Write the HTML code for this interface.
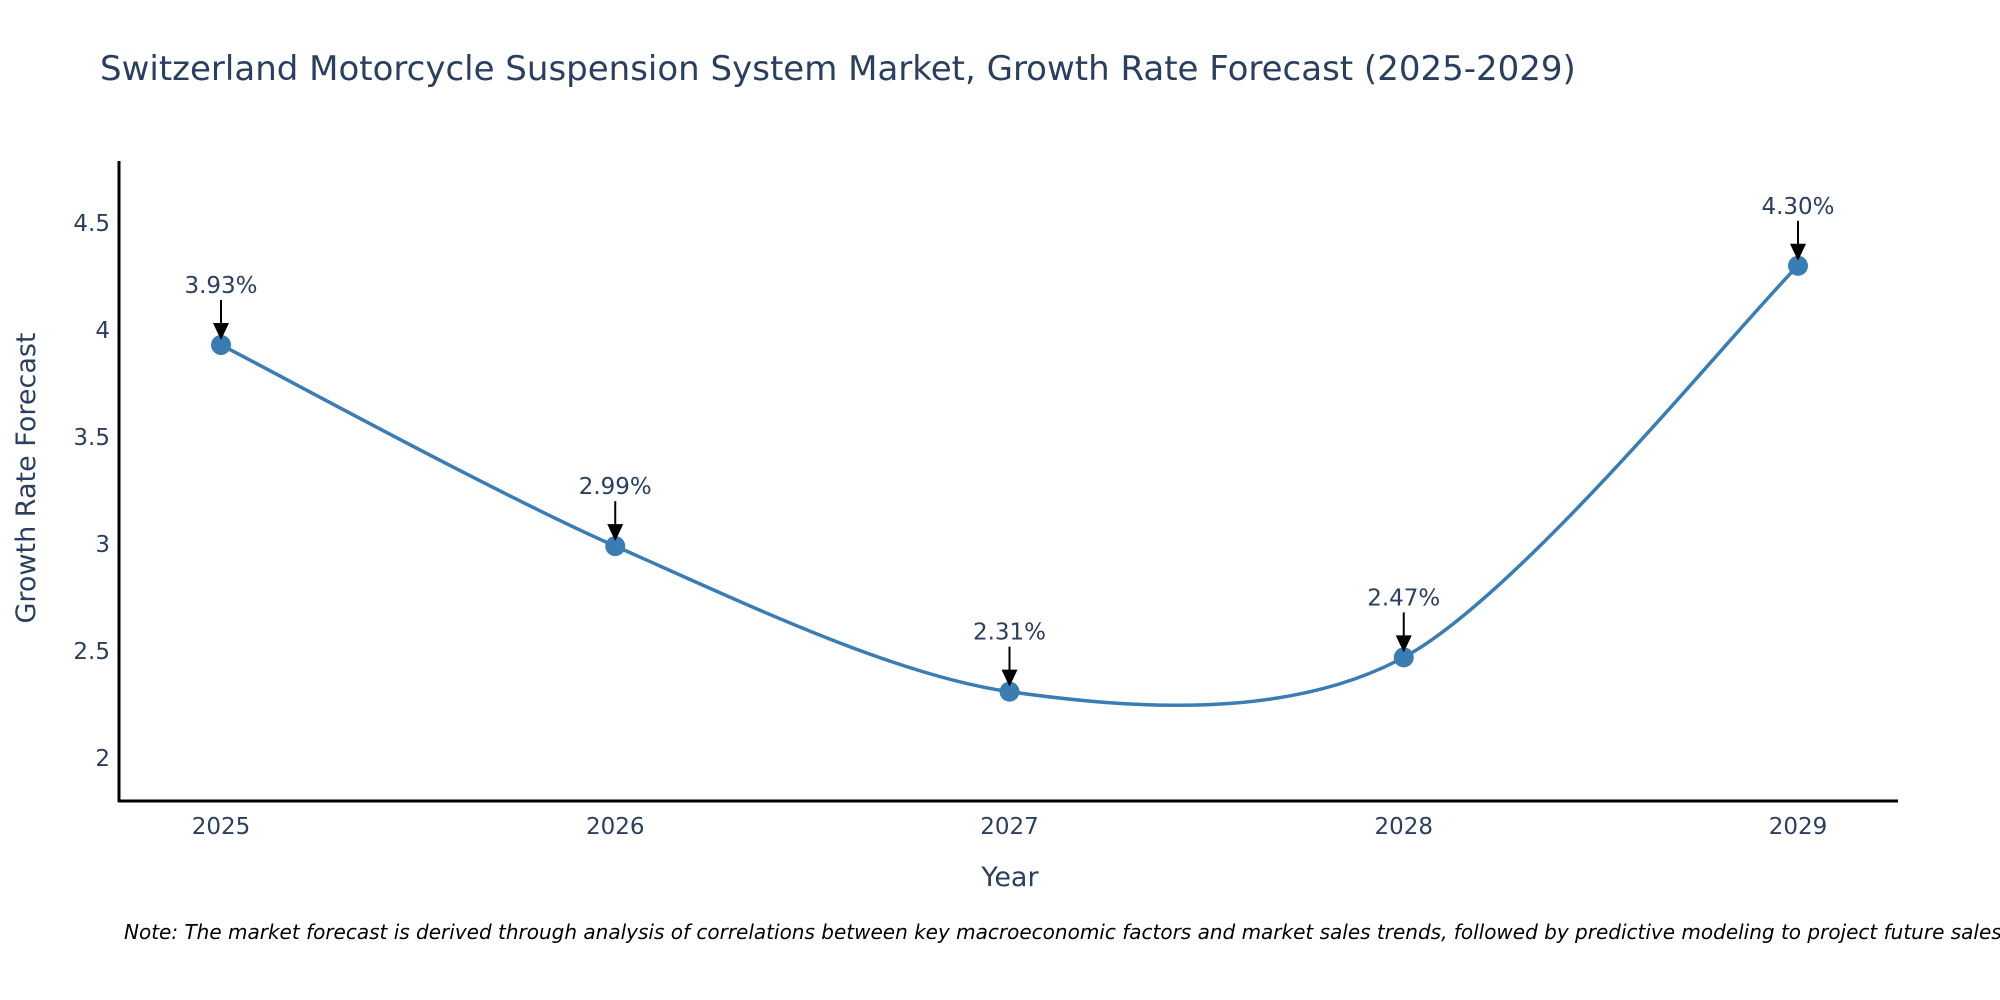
<!DOCTYPE html>
<html><head><meta charset="utf-8"><style>
body{margin:0;background:#fff;}
svg{display:block;font-family:"DejaVu Sans","Liberation Sans",sans-serif;}
</style></head><body>
<svg id="chart" width="2000" height="1000">
<text x="100" y="80" font-size="34" fill="#2a3f5f">Switzerland Motorcycle Suspension System Market, Growth Rate Forecast (2025-2029)</text>
<g id="yticks"></g>
<g id="xticks"></g>
<path id="line" fill="none" stroke="#3a7db4" stroke-width="3.5"></path>
<g id="points"></g>
<g id="annots"></g>
<line x1="119" y1="161" x2="119" y2="802" stroke="#000" stroke-width="3"/>
<line x1="118" y1="801" x2="1898" y2="801" stroke="#000" stroke-width="3"/>
<text x="1010" y="886" font-size="27" fill="#2a3f5f" text-anchor="middle">Year</text>
<text transform="translate(35,478) rotate(-90)" font-size="27" fill="#2a3f5f" text-anchor="middle">Growth Rate Forecast</text>
<text x="124" y="939" font-size="20" font-style="italic" fill="#000">Note: The market forecast is derived through analysis of correlations between key macroeconomic factors and market sales trends, followed by predictive modeling to project future sales.</text>
</svg>
<script>
const years=[2025,2026,2027,2028,2029];
const values=[3.93,2.99,2.31,2.47,4.30];
const labels=["3.93%","2.99%","2.31%","2.47%","4.30%"];
const yTicks=[2,2.5,3,3.5,4,4.5];
const yTickLabels=["2","2.5","3","3.5","4","4.5"];
const NS="http://www.w3.org/2000/svg";
function xs(y){return 221+(y-2025)*394.25;}
function ys(v){return 758-(v-2)*214;}
function mk(t,a,p){const e=document.createElementNS(NS,t);for(const k in a)e.setAttribute(k,a[k]);p.appendChild(e);return e;}
const yt=document.getElementById('yticks');
yTicks.forEach((v,i)=>{const t=mk('text',{x:110,y:ys(v)+8,'font-size':23,fill:'#2a3f5f','text-anchor':'end'},yt);


t.textContent=yTickLabels[i];});
const xt=document.getElementById('xticks');
years.forEach(y=>{const t=mk('text',{x:xs(y),y:834,'font-size':23,fill:'#2a3f5f','text-anchor':'middle'},xt);


t.textContent=y;});
const P=years.map((y,i)=>[xs(y),ys(values[i])]);
let d='M'+P[0][0]+','+P[0][1];
const s=0.45;
for(let i=0;i<P.length-1;i++){const p0=P[Math.max(0,i-1)],p1=P[i],p2=P[i+1],p3=P[Math.min(P.length-1,i+2)];
const c1=[p1[0]+(p2[0]-p0[0])*s/3,p1[1]+(p2[1]-p0[1])*s/3];
const c2=[p2[0]-(p3[0]-p1[0])*s/3,p2[1]-(p3[1]-p1[1])*s/3];
d+=' C'+c1+' '+c2+' '+p2;}
document.getElementById('line').setAttribute('d',d);
const pg=document.getElementById('points'),ag=document.getElementById('annots');
P.forEach((p,i)=>{const c=mk('circle',{cx:p[0],cy:p[1],r:10,fill:'#3a7db4'},pg);


const l=mk('line',{x1:p[0],y1:p[1]-45,x2:p[0],y2:p[1]-20,stroke:'#000','stroke-width':2},ag);


const h=mk('polygon',{points:`${p[0]-8},${p[1]-22} ${p[0]+8},${p[1]-22} ${p[0]},${p[1]-5}`,fill:'#000'},ag);


const t=mk('text',{x:p[0],y:p[1]-52,'font-size':23,fill:'#2a3f5f','text-anchor':'middle'},ag);


t.textContent=labels[i];});
</script>
</body></html>
